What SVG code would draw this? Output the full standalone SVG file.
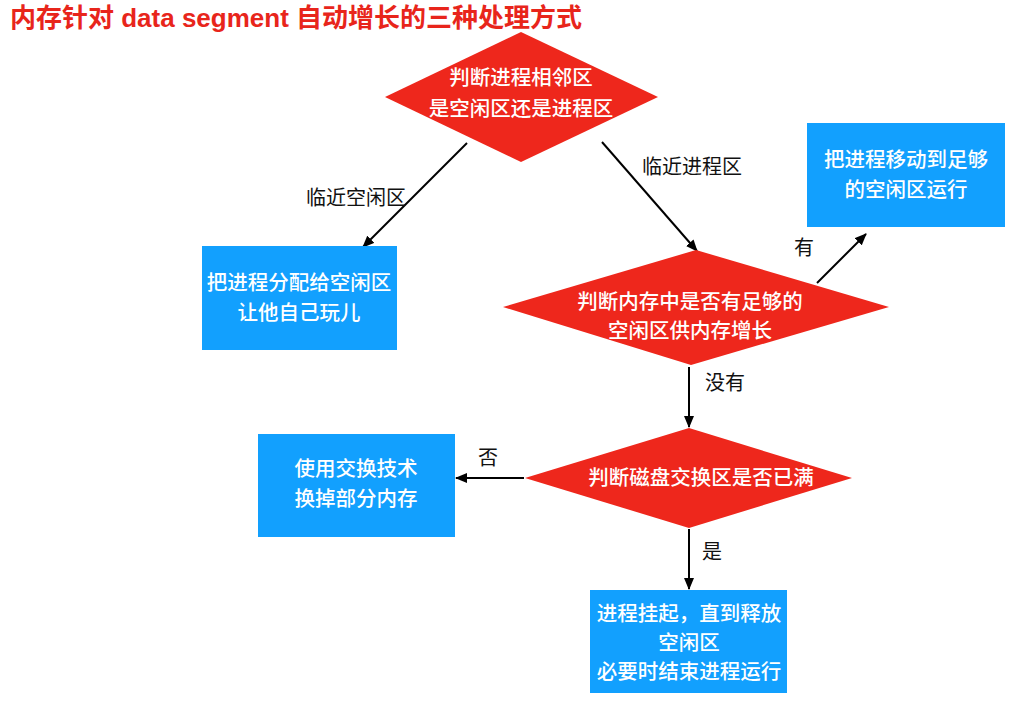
<svg xmlns="http://www.w3.org/2000/svg" width="1010" height="720" viewBox="0 0 1010 720">
<style>
.title{font-family:"Liberation Sans","Noto Sans CJK SC",sans-serif;font-size:26px;font-weight:bold;fill:#E8251B}
.dia{fill:#EE271C}
.box{fill:#12A0FE}
.nt{font-family:"Noto Sans CJK SC","Liberation Sans",sans-serif;font-size:20.5px;fill:#fff;text-anchor:middle;font-weight:500}
.lb{font-family:"Noto Sans CJK SC","Liberation Sans",sans-serif;font-size:20px;fill:#111;text-anchor:middle}
.cn{stroke:#000;stroke-width:2;fill:none;marker-end:url(#ah)}
</style>
<defs>
<marker id="ah" markerWidth="12" markerHeight="10" refX="11" refY="5" orient="auto" markerUnits="userSpaceOnUse">
<path d="M0,0 L12,5 L0,10 Z" fill="#000"/>
</marker>
</defs>
<rect width="1010" height="720" fill="#fff"/>
<text class="title" x="10" y="27">内存针对 data segment 自动增长的三种处理方式</text>

<g id="connectors">
<line class="cn" x1="467" y1="143" x2="363" y2="247"/>
<line class="cn" x1="602" y1="142" x2="697" y2="251"/>
<line class="cn" x1="817" y1="283" x2="866" y2="234"/>
<line class="cn" x1="689" y1="367" x2="689" y2="427"/>
<line class="cn" x1="689" y1="529" x2="689" y2="589"/>
<line class="cn" x1="524" y1="478" x2="456" y2="478"/>
<text class="lb" x="356" y="205">临近空闲区</text>
<text class="lb" x="692" y="174">临近进程区</text>
<text class="lb" x="804" y="255">有</text>
<text class="lb" x="725" y="390">没有</text>
<text class="lb" x="488" y="465">否</text>
<text class="lb" x="712" y="559">是</text>
</g>

<g id="d1">
<polygon class="dia" points="521,32 658,97 521,162 385,97"/>
<text class="nt" x="521" y="85">判断进程相邻区</text>
<text class="nt" x="521" y="116">是空闲区还是进程区</text>
</g>

<g id="b1">
<rect class="box" x="202" y="246" width="195" height="104"/>
<text class="nt" x="299" y="290">把进程分配给空闲区</text>
<text class="nt" x="299" y="320">让他自己玩儿</text>
</g>

<g id="b2">
<rect class="box" x="807" y="123" width="198" height="104"/>
<text class="nt" x="906" y="167">把进程移动到足够</text>
<text class="nt" x="906" y="197">的空闲区运行</text>
</g>

<g id="d2">
<polygon class="dia" points="696,250 889,307 691,365 503,307"/>
<text class="nt" x="690" y="309">判断内存中是否有足够的</text>
<text class="nt" x="690" y="338">空闲区供内存增长</text>
</g>

<g id="d3">
<polygon class="dia" points="689,428 852,478 689,528 525,478"/>
<text class="nt" x="701" y="485">判断磁盘交换区是否已满</text>
</g>

<g id="b3">
<rect class="box" x="258" y="434" width="197" height="103"/>
<text class="nt" x="356" y="476">使用交换技术</text>
<text class="nt" x="356" y="506">换掉部分内存</text>
</g>

<g id="b4">
<rect class="box" x="590" y="590" width="197" height="103"/>
<text class="nt" x="689" y="621">进程挂起，直到释放</text>
<text class="nt" x="689" y="650">空闲区</text>
<text class="nt" x="689" y="679">必要时结束进程运行</text>
</g>
</svg>
